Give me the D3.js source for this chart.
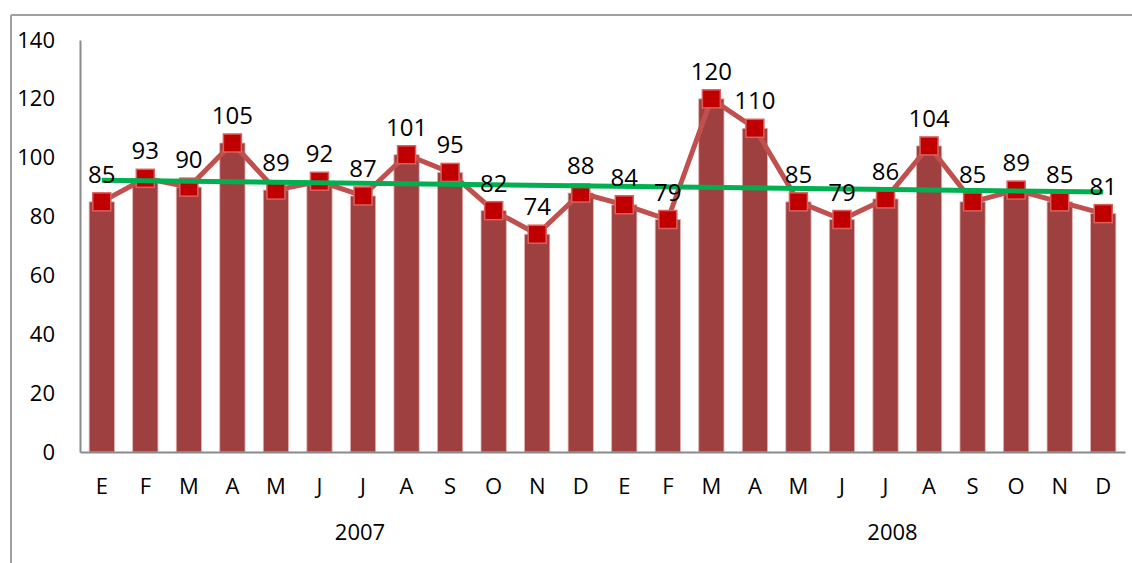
<!DOCTYPE html>
<html>
<head>
<meta charset="utf-8">
<script src="https://cdn.jsdelivr.net/npm/d3@7"></script>
<style>
  body { margin: 0; background: #fff; }
  svg { display: block; font-family: "Open Sans", sans-serif; }
</style>
</head>
<body>
<svg id="chart" width="1132" height="563"></svg>
<script>
// monthly values, two years
var months = ["E", "F", "M", "A", "M", "J", "J", "A", "S", "O", "N", "D",
              "E", "F", "M", "A", "M", "J", "J", "A", "S", "O", "N", "D"];
var values = [85, 93, 90, 105, 89, 92, 87, 101, 95, 82, 74, 88,
              84, 79, 120, 110, 85, 79, 86, 104, 85, 89, 85, 81];
var years = ["2007", "2008"];
var yTicks = [0, 20, 40, 60, 80, 100, 120, 140];

var margin = {top: 40, right: 7, bottom: 111, left: 80},
    width = 1132 - margin.left - margin.right,
    height = 563 - margin.top - margin.bottom,
    barColor = "#9e4040",
    lineColor = "#c0504d",
    markerColor = "#c00000",
    trendColor = "#00b050",
    axisColor = "#8a8a8a";

var svg = d3.select("#chart");

// outer frame (only top and left visible)
svg.append("line").attr("x1", 11).attr("x2", 1132).attr("y1", 15).attr("y2", 15)
   .attr("stroke", "#a0a0a0").attr("stroke-width", 2);
svg.append("line").attr("x1", 11).attr("x2", 11).attr("y1", 15).attr("y2", 563)
   .attr("stroke", "#a0a0a0").attr("stroke-width", 2);

var g = svg.append("g")
    .attr("transform", "translate(" + margin.left + "," + margin.top + ")");

var idx = d3.range(months.length);

var x = d3.scaleBand().domain(idx).range([0, width]).paddingInner(0.42).paddingOuter(0.21);
var xc = function(i) { return x(i) + x.bandwidth() / 2; };
var y = d3.scaleLinear().domain([0, 140]).range([height, 0]);

// bars
g.selectAll("rect.bar").data(values).enter()
  .append("rect")
  .attr("class", "bar")
  .attr("x", function(d, i) { return x(i); })
  .attr("y", function(d) { return y(d); })
  .attr("width", x.bandwidth())
  .attr("height", function(d) { return height - y(d); })
  .attr("fill", barColor)
  .attr("stroke", "#e3b1b0")
  .attr("stroke-width", 0.8);

// axes
var yAxis = g.append("g").call(d3.axisLeft(y).tickValues(yTicks).tickSize(0).tickPadding(25));
yAxis.select(".domain").attr("stroke", axisColor).attr("stroke-width", 2);
yAxis.selectAll("text").attr("font-size", 22).attr("fill", "#000")
     .attr("font-family", "Open Sans, sans-serif");

var xAxis = g.append("g").attr("transform", "translate(0," + height + ")")
    .call(d3.axisBottom(x).tickSize(0).tickPadding(26).tickFormat(function(i) { return months[i]; }));
xAxis.select(".domain").attr("stroke", axisColor).attr("stroke-width", 2);
xAxis.selectAll("text").attr("font-size", 22).attr("fill", "#000")
     .attr("font-family", "Open Sans, sans-serif");

// year labels under each group of 12
g.selectAll("text.year").data(years).enter()
  .append("text")
  .attr("class", "year")
  .attr("x", function(d, k) { return xc(k * 12 + 6) - 3 + k * 10; })
  .attr("y", height + 88)
  .attr("text-anchor", "middle")
  .attr("font-size", 22)
  .text(function(d) { return d; });

// red line
var line = d3.line().x(function(d, i) { return xc(i); }).y(function(d) { return y(d); });
g.append("path").datum(values)
  .attr("d", line)
  .attr("fill", "none")
  .attr("stroke", lineColor)
  .attr("stroke-width", 5)
  .attr("stroke-linejoin", "round");

// markers
var ms = 18;
g.selectAll("rect.marker").data(values).enter()
  .append("rect")
  .attr("class", "marker")
  .attr("x", function(d, i) { return xc(i) - ms / 2; })
  .attr("y", function(d) { return y(d) - ms / 2; })
  .attr("width", ms)
  .attr("height", ms)
  .attr("fill", markerColor)
  .attr("stroke", "#d9605e")
  .attr("stroke-width", 1.5);

// linear trend line of the values
var n = values.length,
    mx = d3.mean(idx),
    my = d3.mean(values),
    slope = d3.sum(idx, function(i) { return (i - mx) * (values[i] - my); }) /
            d3.sum(idx, function(i) { return (i - mx) * (i - mx); }),
    icpt = my - slope * mx;
g.append("line")
  .attr("x1", xc(0)).attr("y1", y(icpt))
  .attr("x2", xc(n - 1)).attr("y2", y(icpt + slope * (n - 1)))
  .attr("stroke", trendColor)
  .attr("stroke-width", 5);

// data labels
g.selectAll("text.lbl").data(values).enter()
  .append("text")
  .attr("class", "lbl")
  .attr("x", function(d, i) { return xc(i); })
  .attr("y", function(d) { return y(d) - 19; })
  .attr("text-anchor", "middle")
  .attr("font-size", 24)
  .text(function(d) { return d; });
</script>
</body>
</html>
